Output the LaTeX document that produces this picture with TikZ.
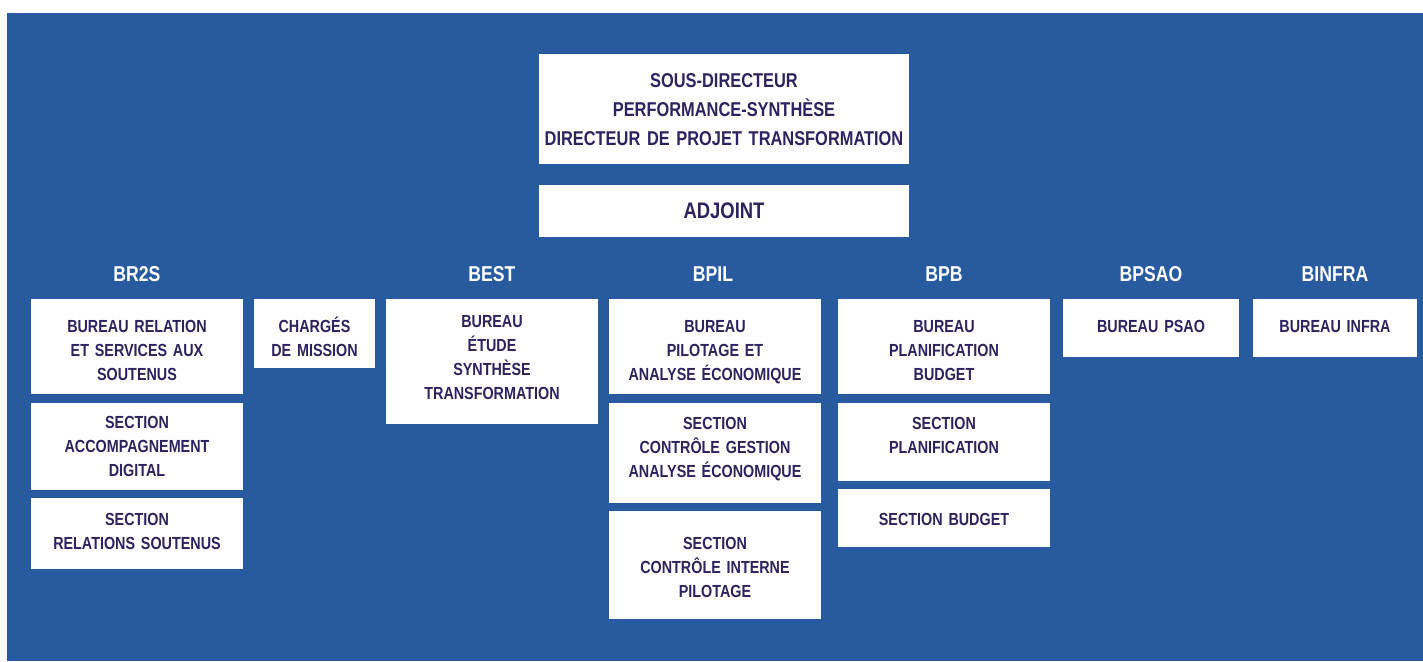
\documentclass[tikz,border=0pt]{standalone}
\usepackage{fontspec}
\setmainfont{Liberation Sans}[FakeStretch=0.82]
\usetikzlibrary{positioning}
\definecolor{orgblue}{RGB}{40,90,160}
\definecolor{orgtext}{RGB}{45,35,95}
\tikzset{
  unit/.style={fill=white, text=orgtext, font=\bfseries\fontsize{17.5}{24}\selectfont,
    align=center, inner sep=0pt, anchor=north, text width=#1},
  unit/.default=212pt,
  box/.style 2 args={text height=#1pt, text depth=#2pt},
  head/.style={text=white, font=\bfseries\fontsize{21.5}{26}\selectfont, inner sep=0pt}
}

\begin{document}
\begin{tikzpicture}[x=1pt, y=-1pt]
    \useasboundingbox (0,0) rectangle (1423,661);
    \fill [orgblue] (7,13) rectangle (1423,661);

    \node [unit=370pt, minimum height=110pt, font=\bfseries\fontsize{20}{29}\selectfont] (sd) at (724,54)
        {SOUS-DIRECTEUR\\PERFORMANCE-SYNTHÈSE\\DIRECTEUR DE PROJET TRANSFORMATION};
    \node [unit=370pt, minimum height=52pt, below=20pt of sd, font=\bfseries\fontsize{22.5}{27}\selectfont] (adj) {ADJOINT};

    \foreach \x/\name in {137/BR2S, 492/BEST, 713/BPIL, 944/BPB, 1151/BPSAO, 1335/BINFRA}
        \node [head] (h\name) at (\x,274) {\name};

    \node [unit, box={33}{62}] (br2s1) at (137,299) {BUREAU RELATION\\ET SERVICES AUX\\SOUTENUS};
    \node [unit, box={26}{61}, below=8pt of br2s1] (br2s2) {SECTION\\ACCOMPAGNEMENT\\DIGITAL};
    \node [unit, box={27}{44}, below=8pt of br2s2] (br2s3) {SECTION\\RELATIONS SOUTENUS};

    \node [unit=121pt, box={33}{36}] (cm) at (314.5,299) {CHARGÉS\\DE MISSION};

    \node [unit, box={28.5}{96.5}] (best1) at (492,299) {BUREAU\\ÉTUDE\\SYNTHÈSE\\TRANSFORMATION};

    \node [unit, box={33.5}{61.5}] (bpil1) at (715,299) {BUREAU\\PILOTAGE ET\\ANALYSE ÉCONOMIQUE};
    \node [unit, box={26.4}{73.6}, below=8pt of bpil1] (bpil2) {SECTION\\CONTRÔLE GESTION\\ANALYSE ÉCONOMIQUE};
    \node [unit, box={38.4}{69.6}, below=8pt of bpil2] (bpil3) {SECTION\\CONTRÔLE INTERNE\\PILOTAGE};

    \node [unit, box={33.5}{61.5}] (bpb1) at (944,299) {BUREAU\\PLANIFICATION\\BUDGET};
    \node [unit, box={26.4}{51.6}, below=8pt of bpb1] (bpb2) {SECTION\\PLANIFICATION};
    \node [unit, box={36.5}{21.5}, below=8pt of bpb2] (bpb3) {SECTION BUDGET};

    \node [unit=176pt, box={33.4}{24.6}] (bpsao1) at (1151,299) {BUREAU PSAO};
    \node [unit=164pt, box={33.4}{24.6}] (binfra1) at (1335,299) {BUREAU INFRA};
\end{tikzpicture}
\end{document}
